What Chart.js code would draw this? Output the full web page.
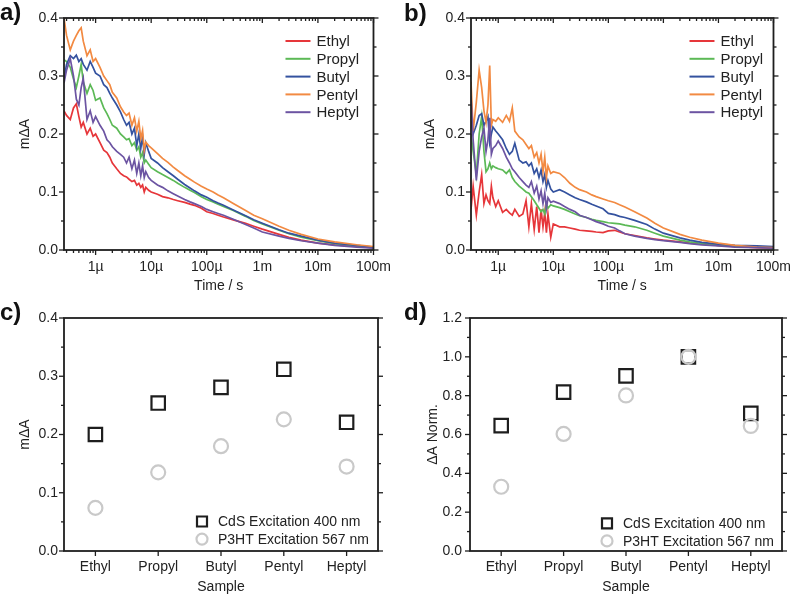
<!DOCTYPE html>
<html>
<head>
<meta charset="utf-8">
<script src="https://cdn.jsdelivr.net/npm/chart.js@4.4.1/dist/chart.umd.min.js"></script>
<style>
  body { margin: 0; background: #fff; }
  #page { position: relative; width: 800px; height: 596px; overflow: hidden; background: #fff; }
  .panel { position: absolute; width: 400px; height: 298px; }
  .tag { position: absolute; font: bold 24px "Liberation Sans", Arial, sans-serif; line-height: 24px; color: #111; }
</style>
</head>
<body>
<div id="page">
  <div class="panel" style="left:0;top:0"><canvas id="chartA" width="400" height="298"></canvas></div>
  <div class="panel" style="left:400px;top:0"><canvas id="chartB" width="400" height="298"></canvas></div>
  <div class="panel" style="left:0;top:298px"><canvas id="chartC" width="400" height="298"></canvas></div>
  <div class="panel" style="left:400px;top:298px"><canvas id="chartD" width="400" height="298"></canvas></div>
  <div class="tag" style="left:0;top:0">a)</div>
  <div class="tag" style="left:404px;top:1px">b)</div>
  <div class="tag" style="left:0;top:300px">c)</div>
  <div class="tag" style="left:404px;top:300px">d)</div>
</div>
<script>
const seriesNames = ['Ethyl', 'Propyl', 'Butyl', 'Pentyl', 'Heptyl']
const seriesColors = ['#e6363a', '#5cb956', '#34529f', '#f28a42', '#6c54a2']

const timeTicks = [1e-6, 1e-5, 1e-4, 1e-3, 1e-2, 1e-1]
const timeTickLabels = ['1µ', '10µ', '100µ', '1m', '10m', '100m']

// panel a, transients (time in s, signal in mΔA)
const timeA = [2.7e-7, 3e-7, 3.5e-7, 4e-7, 4.5e-7, 5e-7, 5.5e-7, 6e-7, 7e-7, 8e-7,
  9e-7, 1e-6, 1.2e-6, 1.4e-6, 1.6e-6, 1.8e-6, 2e-6, 2.4e-6, 2.8e-6, 3.2e-6,
  3.6e-6, 4e-6, 4.5e-6, 5e-6, 5.5e-6, 6e-6, 6.5e-6, 7e-6, 7.5e-6, 8e-6,
  9e-6, 1e-5, 1.3e-5, 1.6e-5, 2e-5, 2.5e-5, 3e-5, 4e-5, 5e-5, 6e-5,
  8e-5, 1e-4, 1.3e-4, 1.6e-4, 2e-4, 3e-4, 5e-4, 7e-4, 1e-3, 2e-3,
  3e-3, 5e-3, 1e-2, 2e-2, 5e-2, 1e-1]
const ethylA = [0.240, 0.232, 0.225, 0.245, 0.252, 0.230, 0.212, 0.220, 0.200, 0.210,
  0.196, 0.200, 0.185, 0.172, 0.168, 0.160, 0.150, 0.140, 0.132, 0.128,
  0.126, 0.122, 0.118, 0.120, 0.112, 0.115, 0.108, 0.112, 0.100, 0.108,
  0.103, 0.100, 0.096, 0.092, 0.090, 0.087, 0.085, 0.082, 0.079, 0.077,
  0.072, 0.066, 0.063, 0.060, 0.057, 0.052, 0.046, 0.041, 0.036, 0.027,
  0.022, 0.017, 0.012, 0.009, 0.006, 0.004]
const propylA = [0.328, 0.325, 0.315, 0.295, 0.280, 0.300, 0.320, 0.290, 0.270, 0.285,
  0.275, 0.258, 0.262, 0.245, 0.235, 0.225, 0.215, 0.210, 0.200, 0.195,
  0.190, 0.192, 0.180, 0.185, 0.172, 0.178, 0.160, 0.168, 0.150, 0.155,
  0.148, 0.142, 0.135, 0.130, 0.125, 0.120, 0.115, 0.108, 0.103, 0.099,
  0.092, 0.087, 0.083, 0.079, 0.075, 0.068, 0.058, 0.051, 0.045, 0.034,
  0.028, 0.022, 0.016, 0.011, 0.007, 0.004]
const butylA = [0.295, 0.320, 0.335, 0.330, 0.336, 0.325, 0.330, 0.320, 0.310, 0.325,
  0.315, 0.305, 0.300, 0.285, 0.280, 0.270, 0.262, 0.250, 0.238, 0.225,
  0.215, 0.220, 0.200, 0.210, 0.180, 0.200, 0.175, 0.195, 0.165, 0.185,
  0.170, 0.158, 0.150, 0.142, 0.135, 0.128, 0.122, 0.113, 0.107, 0.102,
  0.095, 0.091, 0.085, 0.081, 0.077, 0.069, 0.059, 0.052, 0.046, 0.035,
  0.029, 0.024, 0.017, 0.012, 0.008, 0.005]
const pentylA = [0.400, 0.370, 0.345, 0.360, 0.370, 0.378, 0.383, 0.360, 0.335, 0.345,
  0.325, 0.330, 0.315, 0.300, 0.292, 0.285, 0.272, 0.262, 0.247, 0.238,
  0.232, 0.236, 0.215, 0.228, 0.205, 0.222, 0.192, 0.206, 0.172, 0.186,
  0.180, 0.176, 0.166, 0.158, 0.151, 0.143, 0.137, 0.128, 0.122, 0.117,
  0.110, 0.105, 0.100, 0.095, 0.090, 0.080, 0.068, 0.060, 0.054, 0.041,
  0.034, 0.027, 0.019, 0.014, 0.009, 0.006]
const heptylA = [0.288, 0.310, 0.330, 0.300, 0.260, 0.250, 0.280, 0.296, 0.225, 0.240,
  0.220, 0.230, 0.215, 0.205, 0.190, 0.185, 0.178, 0.170, 0.165, 0.160,
  0.150, 0.160, 0.140, 0.155, 0.132, 0.150, 0.128, 0.145, 0.125, 0.135,
  0.125, 0.120, 0.112, 0.108, 0.102, 0.097, 0.093, 0.087, 0.083, 0.080,
  0.075, 0.070, 0.066, 0.063, 0.060, 0.053, 0.044, 0.038, 0.031, 0.024,
  0.020, 0.016, 0.012, 0.008, 0.005, 0.003]

// panel b, transients
const timeB = [3.2e-7, 3.5e-7, 4e-7, 4.5e-7, 5e-7, 5.5e-7, 6e-7, 6.5e-7, 7e-7, 7.5e-7,
  8e-7, 9e-7, 1e-6, 1.2e-6, 1.4e-6, 1.6e-6, 1.8e-6, 2e-6, 2.4e-6, 2.8e-6,
  3.2e-6, 3.6e-6, 4e-6, 4.5e-6, 5e-6, 5.5e-6, 6e-6, 6.5e-6, 7e-6, 7.5e-6,
  8e-6, 9e-6, 1e-5, 1.3e-5, 1.6e-5, 2e-5, 2.5e-5, 3e-5, 4e-5, 5e-5,
  6e-5, 8e-5, 1e-4, 1.3e-4, 1.6e-4, 2e-4, 3e-4, 5e-4, 7e-4, 1e-3,
  2e-3, 3e-3, 5e-3, 1e-2, 2e-2, 5e-2, 1e-1]
const ethylB = [0.070, 0.110, 0.060, 0.100, 0.130, 0.080, 0.095, 0.085, 0.080, 0.110,
  0.090, 0.075, 0.085, 0.065, 0.070, 0.064, 0.060, 0.070, 0.058, 0.062,
  0.085, 0.040, 0.080, 0.035, 0.075, 0.030, 0.070, 0.040, 0.065, 0.030,
  0.062, 0.022, 0.045, 0.040, 0.040, 0.038, 0.036, 0.034, 0.033, 0.032,
  0.031, 0.030, 0.033, 0.034, 0.031, 0.028, 0.025, 0.021, 0.019, 0.017,
  0.014, 0.012, 0.010, 0.008, 0.006, 0.004, 0.003]
const propylB = [0.200, 0.170, 0.130, 0.200, 0.230, 0.170, 0.135, 0.140, 0.150, 0.140,
  0.145, 0.142, 0.140, 0.138, 0.132, 0.138, 0.125, 0.118, 0.110, 0.105,
  0.100, 0.098, 0.092, 0.085, 0.078, 0.072, 0.066, 0.070, 0.062, 0.080,
  0.072, 0.078, 0.076, 0.073, 0.070, 0.066, 0.062, 0.059, 0.056, 0.053,
  0.051, 0.049, 0.047, 0.046, 0.045, 0.043, 0.040, 0.034, 0.029, 0.024,
  0.017, 0.014, 0.011, 0.008, 0.006, 0.005, 0.004]
const butylB = [0.222, 0.200, 0.215, 0.232, 0.235, 0.215, 0.222, 0.230, 0.185, 0.200,
  0.212, 0.205, 0.200, 0.190, 0.175, 0.165, 0.170, 0.184, 0.155, 0.150,
  0.152, 0.145, 0.150, 0.132, 0.140, 0.125, 0.138, 0.118, 0.130, 0.108,
  0.120, 0.105, 0.100, 0.104, 0.100, 0.095, 0.090, 0.087, 0.083, 0.079,
  0.076, 0.071, 0.063, 0.061, 0.058, 0.056, 0.051, 0.044, 0.036, 0.029,
  0.021, 0.017, 0.013, 0.010, 0.008, 0.007, 0.006]
const pentylB = [0.290, 0.205, 0.255, 0.310, 0.280, 0.240, 0.220, 0.250, 0.318, 0.215,
  0.225, 0.222, 0.228, 0.220, 0.232, 0.222, 0.245, 0.205, 0.195, 0.190,
  0.182, 0.175, 0.180, 0.160, 0.168, 0.150, 0.165, 0.135, 0.160, 0.125,
  0.145, 0.132, 0.135, 0.132, 0.125, 0.115, 0.108, 0.104, 0.100, 0.095,
  0.092, 0.088, 0.085, 0.082, 0.078, 0.074, 0.066, 0.055, 0.046, 0.038,
  0.027, 0.022, 0.017, 0.012, 0.008, 0.005, 0.004]
const heptylB = [0.265, 0.190, 0.120, 0.170, 0.195, 0.210, 0.170, 0.190, 0.228, 0.165,
  0.175, 0.180, 0.188, 0.175, 0.160, 0.150, 0.140, 0.135, 0.125, 0.118,
  0.112, 0.108, 0.118, 0.098, 0.110, 0.088, 0.102, 0.080, 0.098, 0.072,
  0.090, 0.082, 0.084, 0.080, 0.075, 0.070, 0.066, 0.060, 0.056, 0.052,
  0.049, 0.045, 0.041, 0.038, 0.033, 0.028, 0.024, 0.020, 0.018, 0.016,
  0.013, 0.011, 0.009, 0.007, 0.005, 0.004, 0.003]

// panels c and d
const samples = ['Ethyl', 'Propyl', 'Butyl', 'Pentyl', 'Heptyl']
const cdsLabel = 'CdS Excitation 400 nm'
const p3htLabel = 'P3HT Excitation 567 nm'
const cdsAbs = [0.200, 0.254, 0.281, 0.312, 0.221]
const p3htAbs = [0.074, 0.135, 0.180, 0.226, 0.145]
const cdsNorm = [0.646, 0.818, 0.902, 1.000, 0.709]
const p3htNorm = [0.331, 0.603, 0.801, 1.000, 0.644]

const textColor = '#222'
const fontFamily = '"Liberation Sans", Arial, sans-serif'
const font14 = { family: fontFamily, size: 14 }

// box round the plot plus tick marks, Origin style
const frame = {
  id: 'frame',
  afterDraw(chart, args, o) {
    const { ctx, chartArea: a, scales: { x, y } } = chart
    ctx.save()
    ctx.strokeStyle = '#1e1e1e'
    ctx.lineWidth = 1.8
    ctx.strokeRect(a.left, a.top, a.right - a.left, a.bottom - a.top)
    ctx.lineWidth = 1.3
    function mark(x1, y1, x2, y2) {
      ctx.beginPath()
      ctx.moveTo(x1, y1)
      ctx.lineTo(x2, y2)
      ctx.stroke()
    }
    o.xMajor.forEach(v => {
      const px = x.getPixelForValue(v)
      mark(px, a.bottom, px, a.bottom + 5)
      if (o.topTicks) mark(px, a.top, px, a.top + 5)
    })
    o.xMinor.forEach(v => {
      const px = x.getPixelForValue(v)
      mark(px, a.bottom, px, a.bottom + 3)
      if (o.topTicks) mark(px, a.top, px, a.top + 3)
    })
    o.yMajor.forEach(v => {
      const py = y.getPixelForValue(v)
      mark(a.left - 5, py, a.left, py)
      mark(a.right, py, a.right + 5, py)
    })
    o.yMinor.forEach(v => {
      const py = y.getPixelForValue(v)
      mark(a.left - 3, py, a.left, py)
      mark(a.right, py, a.right + 3, py)
    })
    ctx.restore()
  }
}

// legend inside the plot area
const insideLegend = {
  id: 'insideLegend',
  afterDraw(chart, args, o) {
    const { ctx, chartArea: a } = chart
    ctx.save()
    ctx.font = o.fontSize + 'px ' + fontFamily
    ctx.textBaseline = 'middle'
    ctx.textAlign = 'left'
    chart.data.datasets.forEach((ds, i) => {
      const yy = a.top + o.y + i * o.gap
      if (o.kind == 'line') {
        ctx.strokeStyle = ds.borderColor
        ctx.lineWidth = 2
        ctx.beginPath()
        ctx.moveTo(a.right - o.markX, yy)
        ctx.lineTo(a.right - o.markX + 25, yy)
        ctx.stroke()
      } else {
        ctx.strokeStyle = ds.borderColor
        ctx.lineWidth = ds.pointBorderWidth
        ctx.beginPath()
        if (ds.pointStyle == 'rect') ctx.rect(a.right - o.markX - 5, yy - 5, 10, 10)
        else ctx.arc(a.right - o.markX, yy, 5.5, 0, Math.PI * 2)
        ctx.stroke()
      }
      ctx.fillStyle = textColor
      ctx.fillText(ds.label, a.right - o.textX, yy + 1)
    })
    ctx.restore()
  }
}

function logMinors(min, max) {
  const out = []
  for (let d = 1e-7; d < max; d *= 10) {
    for (let k = 2; k <= 9; k++) {
      const v = k * d
      if (v > min && v < max) out.push(v)
    }
  }
  return out
}

function decayChart(id, times, series, xMin, pad, yWidth, yTitlePad, legendPos) {
  const datasets = series.map((values, i) => ({
    label: seriesNames[i],
    data: values,
    borderColor: seriesColors[i],
    borderWidth: 1.7,
    pointRadius: 0,
    fill: false,
    tension: 0,
    order: series.length - i
  }))

  return new Chart(document.getElementById(id), {
    type: 'line',
    data: { labels: times, datasets },
    options: {
      responsive: false,
      animation: false,
      events: [],
      layout: { padding: { top: pad.top, right: pad.right, left: 0, bottom: 0 } },
      plugins: {
        legend: { display: false },
        tooltip: { enabled: false },
        frame: {
          xMajor: timeTicks,
          xMinor: logMinors(xMin, 0.1),
          yMajor: [0, 0.1, 0.2, 0.3, 0.4],
          yMinor: [0.05, 0.15, 0.25, 0.35],
          topTicks: true
        },
        insideLegend: legendPos
      },
      scales: {
        x: {
          type: 'logarithmic',
          min: xMin,
          max: 0.1,
          grid: { display: false, drawTicks: false },
          border: { display: false },
          afterBuildTicks: s => { s.ticks = timeTicks.map(v => ({ value: v })) },
          afterFit: s => { s.height = 48 },
          ticks: {
            autoSkip: false,
            maxRotation: 0,
            padding: 9,
            color: textColor,
            font: font14,
            callback: v => timeTickLabels[timeTicks.indexOf(v)]
          },
          title: { display: true, text: 'Time / s', color: textColor, font: font14, padding: { top: 0, bottom: 3 } }
        },
        y: {
          min: 0,
          max: 0.4,
          grid: { display: false, drawTicks: false },
          border: { display: false },
          afterFit: s => { s.width = yWidth },
          ticks: { stepSize: 0.1, padding: 6, color: textColor, font: font14, callback: v => v.toFixed(1) },
          title: { display: true, text: 'mΔA', color: textColor, font: font14, padding: { top: yTitlePad, bottom: 0 } }
        }
      }
    },
    plugins: [frame, insideLegend]
  })
}

function sampleChart(id, cds, p3ht, yMax, yStep, pad, yWidth, yTitle, yTitlePad, legendPos) {
  const yMajor = []
  const yMinor = []
  for (let i = 0; i <= Math.round(yMax / yStep); i++) {
    yMajor.push(i * yStep)
    if (i > 0) yMinor.push((i - 0.5) * yStep)
  }

  return new Chart(document.getElementById(id), {
    type: 'line',
    data: {
      labels: samples,
      datasets: [
        {
          label: cdsLabel,
          data: cds,
          showLine: false,
          pointStyle: 'rect',
          pointRadius: 9.5,
          pointBorderWidth: 2.2,
          borderColor: '#1e1e1e',
          backgroundColor: 'rgba(0,0,0,0)',
          order: 1
        },
        {
          label: p3htLabel,
          data: p3ht,
          showLine: false,
          pointStyle: 'circle',
          pointRadius: 7,
          pointBorderWidth: 2.2,
          borderColor: '#c9c9c9',
          backgroundColor: 'rgba(0,0,0,0)',
          order: 0
        }
      ]
    },
    options: {
      responsive: false,
      animation: false,
      events: [],
      layout: { padding: { top: pad.top, right: pad.right, left: 0, bottom: 0 } },
      plugins: {
        legend: { display: false },
        tooltip: { enabled: false },
        frame: { xMajor: [0, 1, 2, 3, 4], xMinor: [], yMajor, yMinor, topTicks: false },
        insideLegend: legendPos
      },
      scales: {
        x: {
          type: 'category',
          offset: true,
          grid: { display: false, drawTicks: false },
          border: { display: false },
          afterFit: s => { s.height = 45 },
          ticks: { padding: 8, color: textColor, font: font14 },
          title: { display: true, text: 'Sample', color: textColor, font: font14, padding: { top: 0, bottom: 0 } }
        },
        y: {
          min: 0,
          max: yMax,
          grid: { display: false, drawTicks: false },
          border: { display: false },
          afterFit: s => { s.width = yWidth },
          ticks: { stepSize: yStep, padding: yWidth > 66 ? 8 : 6, color: textColor, font: font14, callback: v => v.toFixed(1) },
          title: { display: true, text: yTitle, color: textColor, font: font14, padding: { top: yTitlePad, bottom: 0 } }
        }
      }
    },
    plugins: [frame, insideLegend]
  })
}

decayChart('chartA', timeA, [ethylA, propylA, butylA, pentylA, heptylA], 2.7e-7,
  { top: 18, right: 22 }, 64, 16.5, { kind: 'line', markX: 88, textX: 57, y: 23, gap: 17.8, fontSize: 15 })
decayChart('chartB', timeB, [ethylB, propylB, butylB, pentylB, heptylB], 3.2e-7,
  { top: 18, right: 18 }, 71, 21.5, { kind: 'line', markX: 84, textX: 53, y: 23, gap: 17.8, fontSize: 15 })
sampleChart('chartC', cdsAbs, p3htAbs, 0.4, 0.1, { top: 20, right: 22 }, 64, 'mΔA', 16.5,
  { kind: 'marker', markX: 176, textX: 160, y: 203.5, gap: 17.6, fontSize: 14 })
sampleChart('chartD', cdsNorm, p3htNorm, 1.2, 0.2, { top: 20, right: 18 }, 70, 'ΔA Norm.', 24.5,
  { kind: 'marker', markX: 175, textX: 159, y: 205.3, gap: 17.6, fontSize: 14 })
</script>
</body>
</html>
